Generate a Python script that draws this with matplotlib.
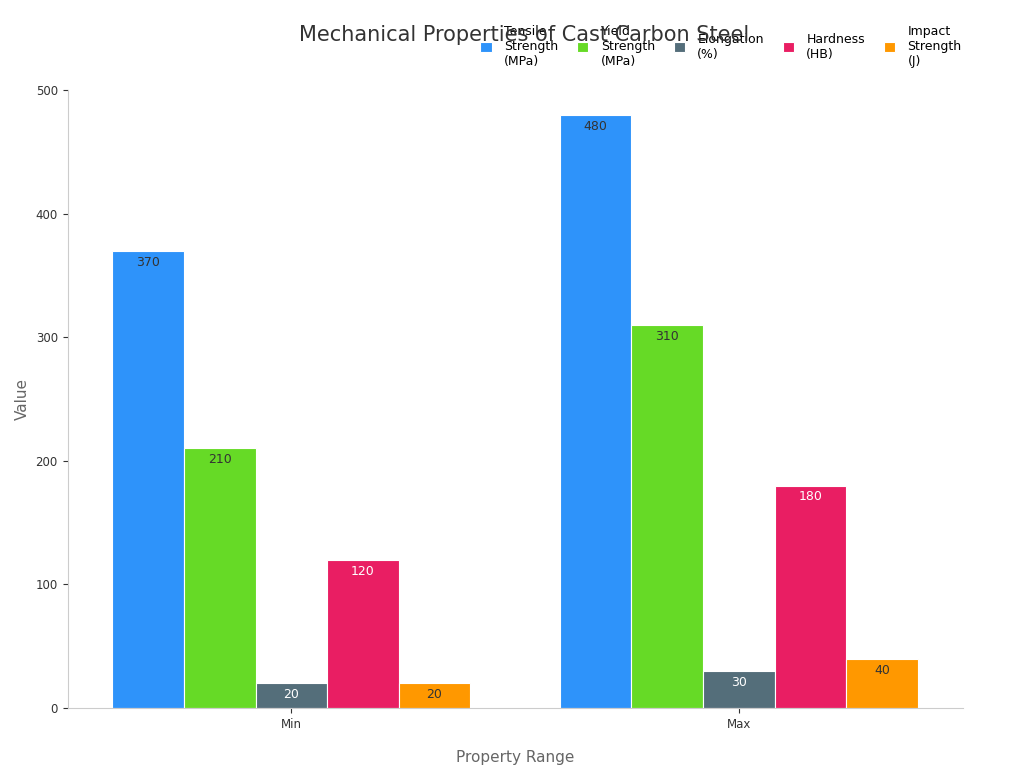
import matplotlib
matplotlib.use("Agg")
import matplotlib.pyplot as plt
import numpy as np

categories = ["Min", "Max"]
series = ["Tensile\nStrength\n(MPa)", "Yield\nStrength\n(MPa)", "Elongation\n(%)", "Hardness\n(HB)", "Impact\nStrength\n(J)"]
values = [[370, 480], [210, 310], [20, 30], [120, 180], [20, 40]]
colors = ["#2E93FA", "#66DA26", "#546E7A", "#E91E63", "#FF9800"]
label_colors = ["#333333", "#333333", "white", "white", "#333333"]

fig = plt.figure(figsize=(10.24, 7.68), dpi=100)
ax = fig.add_axes([0.066, 0.078, 0.874, 0.805])
x = np.arange(len(categories))
w = 0.16
for i, (s, v) in enumerate(zip(series, values)):
    pos = x + (i - 2) * w
    bars = ax.bar(pos, v, w, color=colors[i], edgecolor="white", linewidth=0.8, label=s)
    for b, val in zip(bars, v):
        ax.text(b.get_x() + b.get_width() / 2, val - 4, str(val), ha="center", va="top",
                fontsize=9, color=label_colors[i])
ax.set_xlim(-0.5, 1.5)
ax.set_ylim(0, 500)
ax.set_yticks([0, 100, 200, 300, 400, 500])
ax.set_xticks(x)
ax.set_xticklabels(categories)
ax.tick_params(labelsize=8.5, colors="#333333")
for sp in ["top", "right"]:
    ax.spines[sp].set_visible(False)
for sp in ["left", "bottom"]:
    ax.spines[sp].set_color("#cccccc")
ax.set_xlabel("Property Range", fontsize=11, color="#666666", labelpad=14)
ax.set_ylabel("Value", fontsize=11, color="#666666")
fig.text(0.512, 0.955, "Mechanical Properties of Cast Carbon Steel", ha="center", va="center",
         fontsize=15, color="#333333")
ax.legend(ncol=5, loc="center", bbox_to_anchor=(0.73, 1.07), frameon=False, fontsize=9,
          handlelength=0.9, handleheight=0.9, columnspacing=1.5, handletextpad=1.0)
fig.savefig("out.png", dpi=100)
